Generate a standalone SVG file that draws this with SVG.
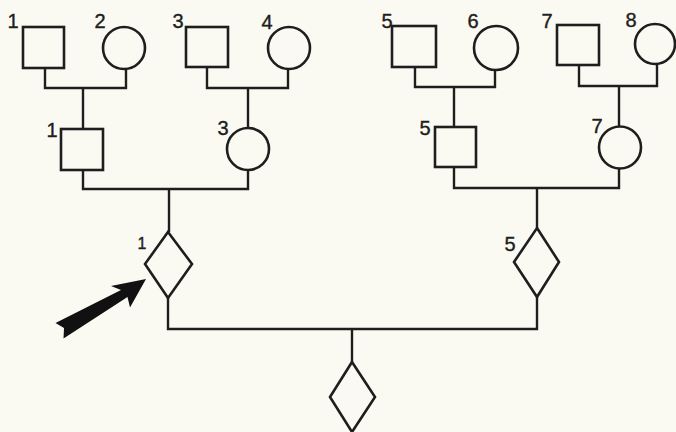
<svg xmlns="http://www.w3.org/2000/svg" width="676" height="432" viewBox="0 0 676 432">
<style>
.bg{fill:#fbfaf2}
.n{fill:none;stroke:#1e1e1e;stroke-width:2.6}
.c{fill:none;stroke:#1e1e1e;stroke-width:2.4}
.t{font-family:"Liberation Sans","DejaVu Sans",sans-serif;font-size:20px;fill:#1e1e1e;stroke:#1e1e1e;stroke-width:0.4;text-anchor:middle}
</style>
<rect class="bg" x="0" y="0" width="676" height="432"/>
<g id="connectors">
<path class="c" d="M45 68 V88 H126 V69 M83 88 V129"/>
<path class="c" d="M207 67 V88 H288 V69 M248 88 V128"/>
<path class="c" d="M415 67 V87 H495 V70 M454 87 V127"/>
<path class="c" d="M579 65 V86 H657 V64 M619 86 V126"/>
<path class="c" d="M83 170 V189 H248 V170 M169 189 V232"/>
<path class="c" d="M454 167 V188 H619 V168 M537 188 V228"/>
<path class="c" d="M168 298 V329 H537 V297 M352 329 V362"/>
</g>
<g id="I-1"><rect class="n" x="23" y="27" width="41" height="41"/><text class="t" x="13" y="28">1</text></g>
<g id="I-2"><circle class="n" cx="124" cy="48" r="21"/><text class="t" x="100" y="28">2</text></g>
<g id="I-3"><rect class="n" x="186" y="27" width="42" height="40"/><text class="t" x="178" y="28">3</text></g>
<g id="I-4"><circle class="n" cx="289" cy="48" r="21"/><text class="t" x="267" y="29">4</text></g>
<g id="I-5"><rect class="n" x="392" y="26" width="44" height="41"/><text class="t" x="387" y="28">5</text></g>
<g id="I-6"><circle class="n" cx="496" cy="48" r="22"/><text class="t" x="473" y="28">6</text></g>
<g id="I-7"><rect class="n" x="557" y="25" width="42" height="40"/><text class="t" x="547" y="28">7</text></g>
<g id="I-8"><circle class="n" cx="655" cy="44" r="20"/><text class="t" x="631" y="27">8</text></g>
<g id="II-1"><rect class="n" x="61" y="129" width="42" height="41"/><text class="t" x="52" y="137">1</text></g>
<g id="II-3"><circle class="n" cx="248" cy="149" r="21"/><text class="t" x="223" y="135">3</text></g>
<g id="II-5"><rect class="n" x="435" y="127" width="41" height="40"/><text class="t" x="425" y="135">5</text></g>
<g id="II-7"><circle class="n" cx="620" cy="147.5" r="21"/><text class="t" x="597" y="133">7</text></g>
<g id="III-1"><polygon class="n" points="168,232 192,264 168,298 145,264"/><text class="t" x="142" y="249" style="font-size:16px">1</text></g>
<g id="III-5"><polygon class="n" points="537,228 559,262 537,297 514,262"/><text class="t" x="510" y="251">5</text></g>
<g id="IV-1"><polygon class="n" points="352,362 375,397 352,432 330,397"/></g>
<g id="proband-arrow"><polygon fill="#111" points="146,279 111,286 121,290 55.5,323 64,328 63.5,338.5 127.5,297 130,307.5"/></g>
</svg>
